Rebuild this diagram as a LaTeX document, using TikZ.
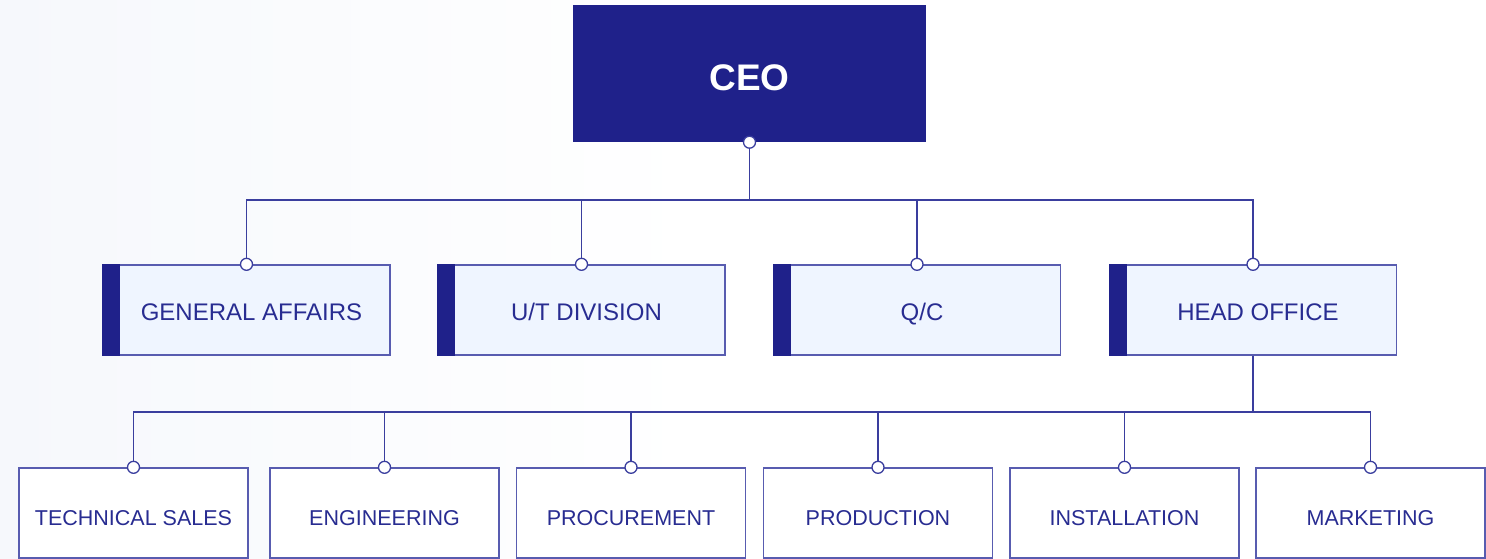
\documentclass[tikz,border=0pt]{standalone}
\usepackage{fontspec}
\setmainfont{Liberation Sans}
\definecolor{navy}{RGB}{31,33,138}
\definecolor{txtblue}{RGB}{40,44,145}
\definecolor{edge}{RGB}{88,92,176}
\definecolor{linec}{RGB}{58,62,158}
\definecolor{lightfill}{RGB}{239,245,255}
\definecolor{bgtint}{RGB}{246,248,252}
\begin{document}
\begin{tikzpicture}[x=1pt,y=-1pt,
  ceobox/.style={rectangle,fill=navy,draw=none,minimum width=353pt,minimum height=137pt,inner sep=0pt,
    text=white,font=\fontsize{37}{40}\selectfont\bfseries,text height=33.5pt,text depth=0pt},
  midbox/.style={rectangle,fill=lightfill,draw=edge,line width=1.4pt,minimum width=287pt,minimum height=90pt,inner sep=0pt,
    text=txtblue,font=\fontsize{24}{28}\selectfont,execute at begin node=\hspace*{10pt},
    text height=20.2pt,text depth=0pt},
  botbox/.style={rectangle,fill=white,draw=edge,line width=1.4pt,minimum width=229pt,minimum height=90pt,inner sep=0pt,
    text=txtblue,font=\fontsize{21.5}{25}\selectfont,text height=24.4pt,text depth=0pt},
  conn/.style={draw=linec,line width=1.5pt},
  dot/.style={circle,fill=white,draw=linec,line width=1.3pt,minimum size=12pt,inner sep=0pt},
  sidebar/.style={fill=navy}
]
\useasboundingbox (0,0) rectangle (1486,559);
\fill[white] (0,0) rectangle (1486,559);
\shade[left color=bgtint,right color=white] (0,0) rectangle (700,559);

% nodes
\node[ceobox] (ceo) at (749.5,73.5) {CEO};

\node[midbox] (ga) at (246.5,310) {GENERAL AFFAIRS};
\node[midbox] (ut) at (581.5,310) {U/T DIVISION};
\node[midbox] (qc) at (917,310) {Q/C};
\node[midbox] (ho) at (1253,310) {HEAD OFFICE};

\foreach \b in {ga,ut,qc,ho}{
  \fill[sidebar] (\b.north west) rectangle ([xshift=18pt]\b.south west);
}

\node[botbox] (ts) at (133.5,513) {TECHNICAL SALES};
\node[botbox] (en) at (384.5,513) {ENGINEERING};
\node[botbox] (pc) at (631,513) {PROCUREMENT};
\node[botbox] (pd) at (878,513) {PRODUCTION};
\node[botbox] (in) at (1124.5,513) {INSTALLATION};
\node[botbox] (mk) at (1370.5,513) {MARKETING};

% bus coordinates
\coordinate (bus1) at (750,200);
\coordinate (bus2) at (1253,412);

% connectors level 1
\draw[conn] (ceo.south) -- (ceo.south |- bus1);
\draw[conn] (ga.north) -- (ga.north |- bus1) -- (ho.north |- bus1) -- (ho.north);
\draw[conn] (ut.north) -- (ut.north |- bus1);
\draw[conn] (qc.north) -- (qc.north |- bus1);

% connectors level 2
\draw[conn] (ho.south) -- (ho.south |- bus2);
\draw[conn] (ts.north) -- (ts.north |- bus2) -- (mk.north |- bus2) -- (mk.north);
\foreach \b in {en,pc,pd,in}{
  \draw[conn] (\b.north) -- (\b.north |- bus2);
}

% dots
\node[dot] at (ceo.south) {};
\foreach \b in {ga,ut,qc,ho,ts,en,pc,pd,in,mk}{
  \node[dot] at (\b.north) {};
}
\end{tikzpicture}
\end{document}
